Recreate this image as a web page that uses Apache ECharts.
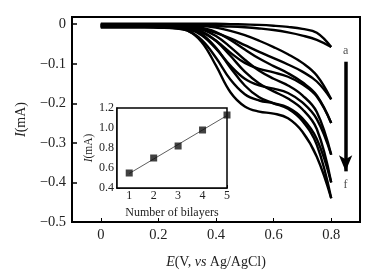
<!DOCTYPE html>
<html>
<head>
<meta charset="utf-8">
<script src="https://cdn.jsdelivr.net/npm/echarts@6/dist/echarts.min.js"></script>
<style>
  html, body { margin: 0; padding: 0; background: #fff; }
  #main { width: 391px; height: 280px; }
</style>
</head>
<body>
<div id="main"></div>
<script>
var dom = document.getElementById("main");
var myChart = echarts.init(dom);

// potential grid (V vs Ag/AgCl)
var potential = [0, 0.05, 0.10, 0.15, 0.20, 0.25, 0.30, 0.35, 0.40, 0.45, 0.50, 0.55, 0.60, 0.65, 0.70, 0.75, 0.80];

// forward (F) and return (R) sweeps, current in mA
var aF = [-0.004,-0.004,-0.004,-0.004,-0.004,-0.004,-0.004,-0.004,-0.005,-0.006,-0.008,-0.011,-0.015,-0.021,-0.029,-0.040,-0.058];
var aR = [0.001,0.001,0.001,0.001,0.001,0.001,0.001,0.001,0.001,0.000,-0.001,-0.002,-0.004,-0.007,-0.012,-0.022,-0.058];
var bF = [-0.005,-0.005,-0.005,-0.005,-0.005,-0.005,-0.007,-0.012,-0.022,-0.036,-0.053,-0.070,-0.086,-0.102,-0.120,-0.145,-0.190];
var bR = [0,0,0,0,0,-0.001,-0.002,-0.004,-0.009,-0.017,-0.028,-0.042,-0.058,-0.076,-0.098,-0.130,-0.190];
var cF = [-0.006,-0.006,-0.006,-0.006,-0.006,-0.007,-0.010,-0.020,-0.042,-0.072,-0.098,-0.113,-0.122,-0.133,-0.152,-0.183,-0.250];
var cR = [-0.001,-0.001,-0.001,-0.001,-0.001,-0.002,-0.004,-0.009,-0.020,-0.040,-0.064,-0.087,-0.106,-0.124,-0.147,-0.180,-0.250];
var dF = [-0.007,-0.007,-0.007,-0.007,-0.007,-0.008,-0.012,-0.028,-0.062,-0.105,-0.138,-0.155,-0.163,-0.174,-0.198,-0.240,-0.330];
var dR = [-0.002,-0.002,-0.002,-0.002,-0.002,-0.003,-0.006,-0.013,-0.030,-0.058,-0.090,-0.118,-0.138,-0.155,-0.180,-0.222,-0.330];
var eF = [-0.008,-0.008,-0.008,-0.008,-0.008,-0.010,-0.016,-0.040,-0.085,-0.140,-0.177,-0.193,-0.200,-0.211,-0.238,-0.290,-0.400];
var eR = [-0.003,-0.003,-0.003,-0.003,-0.003,-0.005,-0.008,-0.018,-0.042,-0.080,-0.120,-0.150,-0.170,-0.188,-0.215,-0.265,-0.400];
var fF = [-0.008,-0.008,-0.008,-0.008,-0.009,-0.010,-0.016,-0.045,-0.105,-0.172,-0.208,-0.221,-0.226,-0.238,-0.272,-0.335,-0.440];
var fR = [-0.003,-0.003,-0.003,-0.003,-0.004,-0.006,-0.010,-0.025,-0.060,-0.110,-0.155,-0.185,-0.200,-0.214,-0.245,-0.305,-0.440];

// inset: peak current vs number of bilayers
var bilayers = [1, 2, 3, 4, 5];
var peakCurrent = [0.55, 0.70, 0.82, 0.98, 1.13];
var fitLine = [0.545, 1.125];

// tick labels
var xTicks = [0, 0.2, 0.4, 0.6, 0.8];
var yTicks = [0, -0.1, -0.2, -0.3, -0.4, -0.5];

var serif = '"Liberation Serif", "DejaVu Serif", serif';

function pairs(arr) {
	var out = [];
	for (var i = 0; i < potential.length; i++) {
		out.push([potential[i], arr[i]]);
	}
	return out;
}

var curves = [aF, aR, bF, bR, cF, cR, dF, dR, eF, eR, fF, fR];
var series = [];
for (var i = 0; i < curves.length; i++) {
	series.push({
		type: 'line',
		xAxisIndex: 0,
		yAxisIndex: 0,
		data: pairs(curves[i]),
		smooth: 0.4,
		symbol: 'none',
		lineStyle: { color: '#000', width: 2.4 },
		silent: true
	});
}

// arrow a -> f
series.push({
	type: 'scatter',
	xAxisIndex: 0,
	yAxisIndex: 0,
	symbolSize: 0,
	data: [
		{ value: [0.85, -0.068], label: { formatter: 'a' } },
		{ value: [0.85, -0.405], label: { formatter: 'f' } }
	],
	label: { show: true, position: 'inside', color: '#222', fontFamily: serif, fontSize: 12 },
	markLine: {
		silent: true,
		symbol: ['none', 'arrow'],
		symbolSize: [10, 16],
		label: { show: false },
		lineStyle: { color: '#000', width: 3.5, type: 'solid' },
		data: [[{ coord: [0.85, -0.095] }, { coord: [0.85, -0.372] }]]
	}
});

// inset fit line and points
series.push({
	type: 'line',
	xAxisIndex: 1,
	yAxisIndex: 1,
	data: [[1, fitLine[0]], [5, fitLine[1]]],
	symbol: 'none',
	lineStyle: { color: '#333', width: 0.8 },
	silent: true,
	z: 5
});
series.push({
	type: 'scatter',
	xAxisIndex: 1,
	yAxisIndex: 1,
	data: bilayers.map(function (b, k) { return [b, peakCurrent[k]]; }),
	symbol: 'rect',
	symbolSize: 7,
	itemStyle: { color: '#111' },
	silent: true,
	z: 6
});

var option = {
	animation: false,
	backgroundColor: '#fff',
	grid: [
		{ left: 72, top: 17, right: 31, bottom: 58, show: true, borderColor: '#000', borderWidth: 2, backgroundColor: 'transparent' },
		{ left: 117, top: 108, width: 110, height: 80, show: true, borderColor: '#000', borderWidth: 1.5, backgroundColor: '#fff', z: 4 }
	],
	xAxis: [
		{
			type: 'value', gridIndex: 0, min: -0.1, max: 0.9,
			axisLine: { onZero: false, lineStyle: { color: '#000', width: 2 } },
			axisTick: { inside: true, length: 4, customValues: xTicks, lineStyle: { color: '#000', width: 1 } },
			axisLabel: { customValues: xTicks, color: '#222', fontFamily: serif, fontSize: 14.5, margin: 6,
				formatter: function (v) { return v === 0 ? '0' : v.toFixed(1); } },
			splitLine: { show: false },
			name: '{i|E}(V, {i|vs} Ag/AgCl)',
			nameLocation: 'middle',
			nameGap: 33,
			nameTextStyle: {
				color: '#222', fontFamily: serif, fontSize: 14,
				rich: { i: { fontStyle: 'italic', fontFamily: serif, fontSize: 14, color: '#222' } }
			}
		},
		{
			type: 'value', gridIndex: 1, min: 0.5, max: 5,
			axisLine: { onZero: false, lineStyle: { color: '#000', width: 1.5 } },
			axisTick: { inside: true, length: 3, customValues: bilayers, lineStyle: { color: '#000' } },
			axisLabel: { customValues: bilayers, color: '#222', fontFamily: serif, fontSize: 12, margin: 2 },
			splitLine: { show: false },
			name: 'Number of bilayers',
			nameLocation: 'middle',
			nameGap: 19,
			nameTextStyle: { color: '#222', fontFamily: serif, fontSize: 12 }
		}
	],
	yAxis: [
		{
			type: 'value', gridIndex: 0, min: -0.5, max: 0.018,
			axisLine: { show: true, onZero: false, lineStyle: { color: '#000', width: 2 } },
			axisTick: { show: true, inside: true, length: 5, customValues: yTicks, lineStyle: { color: '#000', width: 1.5 } },
			axisLabel: { customValues: yTicks, color: '#222', fontFamily: serif, fontSize: 14.5, margin: 6,
				formatter: function (v) { return v === 0 ? '0' : '\u2212' + Math.abs(v).toFixed(1); } },
			splitLine: { show: false },
			name: '{i|I}(mA)',
			nameLocation: 'middle',
			nameGap: 42,
			nameRotate: 90,
			nameTextStyle: {
				color: '#222', fontFamily: serif, fontSize: 14,
				rich: { i: { fontStyle: 'italic', fontFamily: serif, fontSize: 14, color: '#222' } }
			}
		},
		{
			type: 'value', gridIndex: 1, min: 0.4, max: 1.2, interval: 0.2,
			axisLine: { show: true, onZero: false, lineStyle: { color: '#000', width: 1.5 } },
			axisTick: { show: true, inside: true, length: 3, lineStyle: { color: '#000' } },
			axisLabel: { color: '#222', fontFamily: serif, fontSize: 12, margin: 3,
				formatter: function (v) { return v.toFixed(1); } },
			splitLine: { show: false },
			name: '{i|I}(mA)',
			nameLocation: 'middle',
			nameGap: 22,
			nameRotate: 90,
			nameTextStyle: {
				color: '#222', fontFamily: serif, fontSize: 11.5,
				rich: { i: { fontStyle: 'italic', fontFamily: serif, fontSize: 11.5, color: '#222' } }
			}
		}
	],
	series: series
};

myChart.setOption(option, true);
</script>
</body>
</html>
